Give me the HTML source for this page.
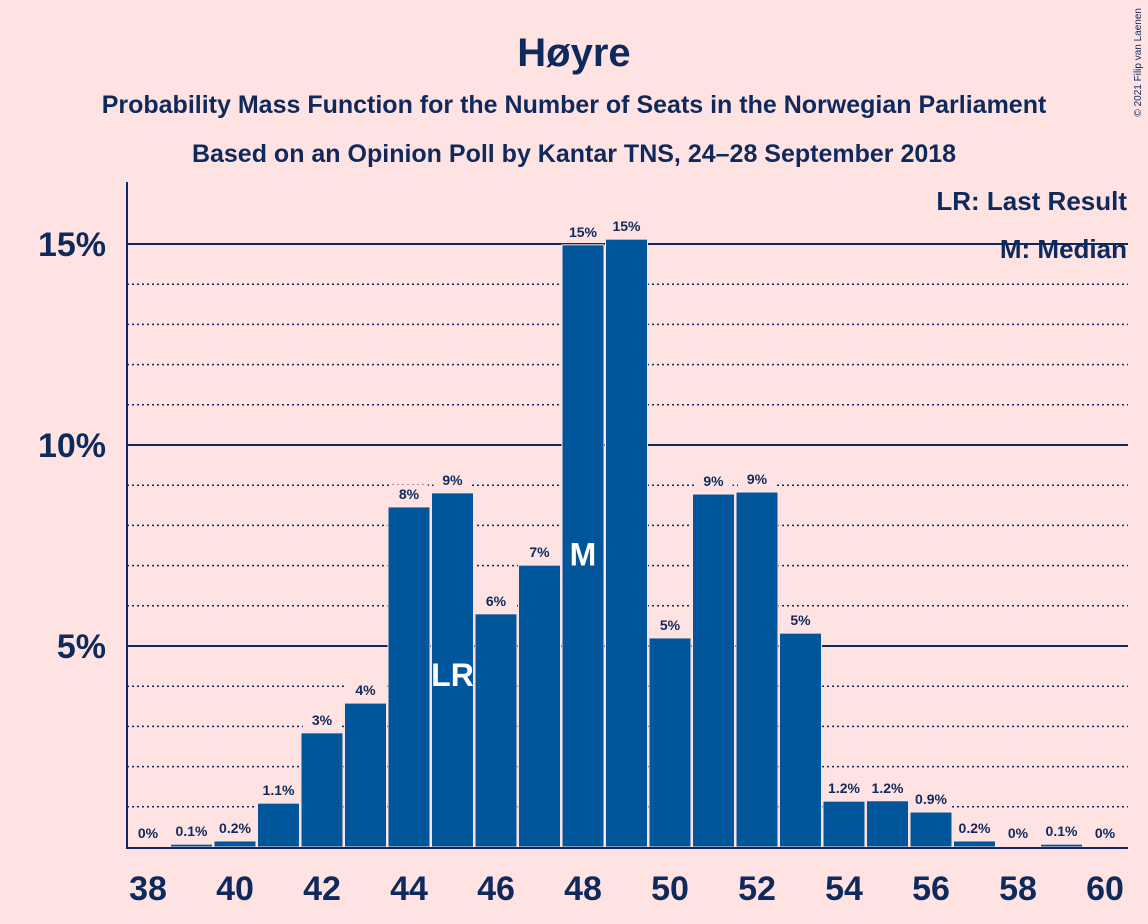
<!DOCTYPE html>
<html><head><meta charset="utf-8">
<style>
body{margin:0;background:#FFE2E2;}
svg{display:block;font-family:"Liberation Sans",sans-serif;}
</style></head>
<body>
<svg id="chart" width="1148" height="924" viewBox="0 0 1148 924" xmlns="http://www.w3.org/2000/svg">
<rect width="1148" height="924" fill="#FFE2E2"/>
<text x="574" y="66" text-anchor="middle" font-size="40" font-weight="bold" fill="#0E2A5C">Høyre</text>
<text x="574" y="113" text-anchor="middle" font-size="25" font-weight="bold" fill="#0E2A5C">Probability Mass Function for the Number of Seats in the Norwegian Parliament</text>
<text x="574" y="162" text-anchor="middle" font-size="25" font-weight="bold" fill="#0E2A5C">Based on an Opinion Poll by Kantar TNS, 24–28 September 2018</text>
<text x="1141" y="8" font-size="10" fill="#0E2A5C" transform="rotate(-90 1141 8)" text-anchor="end">© 2021 Filip van Laenen</text>
<g id="grid"></g>
<g id="bars"></g>
<g id="axes"></g>
<text x="1127" y="210" text-anchor="end" font-size="26" font-weight="bold" fill="#0E2A5C">LR: Last Result</text>
<text x="1127" y="258" text-anchor="end" font-size="26" font-weight="bold" fill="#0E2A5C">M: Median</text>
</svg>
<script>
const seats=[38,39,40,41,42,43,44,45,46,47,48,49,50,51,52,53,54,55,56,57,58,59,60];
const probs=[0.02,0.07,0.15,1.09,2.84,3.58,8.46,8.81,5.8,7.01,14.98,15.12,5.2,8.78,8.83,5.32,1.14,1.15,0.87,0.15,0.02,0.07,0.02];
const labels=["0%","0.1%","0.2%","1.1%","3%","4%","8%","9%","6%","7%","15%","15%","5%","9%","9%","5%","1.2%","1.2%","0.9%","0.2%","0%","0.1%","0%"];
const yTicks=[5,10,15];
const xTicks=[38,40,42,44,46,48,50,52,54,56,58,60];
const lastResult=45, median=48;
const NS="http://www.w3.org/2000/svg";
const y=v=>847-v*40.2;
const x=s=>148+(s-38)*43.5;
function mk(t,a,p){const e=document.createElementNS(NS,t);for(const k in a)e.setAttribute(k,a[k]);p.appendChild(e);return e;}
const grid=document.getElementById('grid'),bars=document.getElementById('bars'),axes=document.getElementById('axes');
for(let v=1;v<=15;v++){
  const major=v%5===0;
  const l=mk('line',{x1:127,x2:1128,y1:y(v),y2:y(v),stroke:'#0E2A5C','stroke-width':major?2:1.5,'stroke-dasharray':major?'':'2,3'},grid);
  
  
}
seats.forEach((s,i)=>{
  const r=mk('rect',{x:x(s)-21,y:y(probs[i]),width:42,height:847-y(probs[i]),fill:'#00569A',stroke:'#FFE2E2','stroke-width':1},bars);
  
  
  const bg=mk('rect',{x:x(s)-19,y:y(probs[i])-22,width:38,height:18,fill:'#FFE2E2'},bars);
  
  
  const t=mk('text',{x:x(s),y:y(probs[i])-8,'text-anchor':'middle','font-size':14,'font-weight':'bold',fill:'#0E2A5C'},bars);
  t.textContent=labels[i];
  
  
  if(s===lastResult||s===median){
    const m=mk('text',{x:x(s),y:s===median?y(7.3)+12:y(4.3)+12,'text-anchor':'middle','font-size':32,'font-weight':'bold',fill:'#FFFFFF'},bars);
    m.textContent=s===median?'M':'LR';
    
    
  }
});
const ya=mk('line',{x1:127,x2:127,y1:182,y2:848,stroke:'#0E2A5C','stroke-width':2},axes);


const xa=mk('line',{x1:126,x2:1128,y1:848,y2:848,stroke:'#0E2A5C','stroke-width':2},axes);


yTicks.forEach(v=>{
  const t=mk('text',{x:106,y:y(v)+12,'text-anchor':'end','font-size':34,'font-weight':'bold',fill:'#0E2A5C'},axes);
  t.textContent=v+'%';
  
  
});
xTicks.forEach(s=>{
  const t=mk('text',{x:x(s),y:900,'text-anchor':'middle','font-size':34,'font-weight':'bold',fill:'#0E2A5C'},axes);
  t.textContent=s;
  
  
});
</script>
</body></html>
